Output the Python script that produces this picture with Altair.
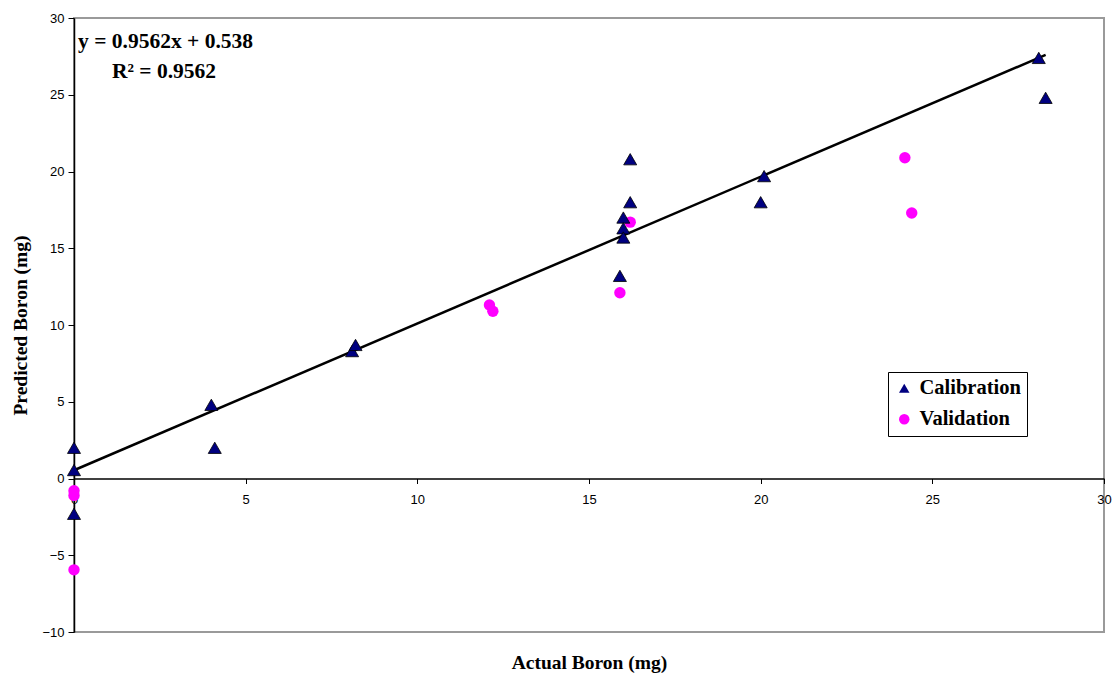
import altair as alt
import pandas as pd

# Calibration samples (actual vs predicted boron, mg)
cal_actual = [0.0, 0.0, 0.0, 4.0, 4.1, 8.1, 8.2, 15.9, 16.0, 16.0, 16.0, 16.2, 16.2, 20.0, 20.1, 28.1, 28.3]
cal_pred = [2.0, 0.55, -2.3, 4.8, 2.0, 8.3, 8.7, 13.2, 17.0, 16.3, 15.7, 18.0, 20.8, 18.0, 19.7, 27.4, 24.8]

# Validation samples
val_actual = [0.0, 0.0, 0.0, 12.1, 12.2, 15.9, 16.2, 24.2, 24.4]
val_pred = [-0.8, -1.1, -5.95, 11.3, 10.9, 12.1, 16.7, 20.9, 17.3]

# Fitted calibration line
slope = 0.9562
intercept = 0.538
r_squared = 0.9562
line_x = [0.0, 28.3]

series_names = ["Calibration", "Validation"]
series_colors = ["#000080", "#FF00FF"]
series_shapes = ["triangle-up", "circle"]

x_ticks = [0, 5, 10, 15, 20, 25, 30]
y_ticks = [-10, -5, 0, 5, 10, 15, 20, 25, 30]

cal_df = pd.DataFrame({"actual": cal_actual, "pred": cal_pred, "series": "Calibration"})
val_df = pd.DataFrame({"actual": val_actual, "pred": val_pred, "series": "Validation"})
line_df = pd.DataFrame({"actual": line_x, "pred": [slope * v + intercept for v in line_x]})

W, H = 1030, 614
SERIF = "Liberation Serif"
SANS = "Liberation Sans"

x_scale = alt.Scale(domain=[0, 30], nice=False, zero=False)
y_scale = alt.Scale(domain=[-10, 30], nice=False, zero=False)

# x axis sits on the y = 0 line
y0_offset = -H * 10 / 40

x_enc = alt.X(
    "actual:Q",
    scale=x_scale,
    axis=alt.Axis(
        values=x_ticks, title="Actual Boron (mg)", offset=y0_offset,
        domainColor="black", domainWidth=1.5, tickColor="black", tickSize=5,
        labelFont=SANS, labelFontSize=13, labelColor="black", labelPadding=10,
        labelFlush=False, labelOverlap=False,
        grid=False, titleFont=SERIF, titleFontSize=19.5, titleFontWeight="bold",
        titleColor="black", titleBaseline="middle",
        titleY=-y0_offset + 30, titleX=W / 2,
    ),
)
y_enc = alt.Y(
    "pred:Q",
    scale=y_scale,
    axis=alt.Axis(
        values=y_ticks, title="Predicted Boron (mg)",
        domainColor="black", domainWidth=1.5, tickColor="black", tickSize=6,
        labelFont=SANS, labelFontSize=13, labelColor="black", labelPadding=4,
        grid=False, titleFont=SERIF, titleFontSize=19.5, titleFontWeight="bold",
        titleColor="black", titleBaseline="middle", titleX=-54, titleY=H / 2,
    ),
)

fill_scale = alt.Scale(domain=series_names, range=series_colors)
shape_scale = alt.Scale(domain=series_names, range=series_shapes)
legend = alt.Legend(
    title=None, orient="none", legendX=814, legendY=354,
    fillColor="white", strokeColor="black", padding=6, rowPadding=10,
    labelFont=SERIF, labelFontSize=20.5, labelFontWeight="bold", labelColor="black",
    symbolSize=110, symbolStrokeWidth=0.6, symbolStrokeColor="black", labelOffset=5,
)

trend = alt.Chart(line_df).mark_line(color="black", strokeWidth=2.5).encode(x=x_enc, y=y_enc)

cal_points = alt.Chart(cal_df).mark_point(
    filled=True, size=170, stroke="black", strokeWidth=0.8, opacity=1
).encode(
    x=x_enc, y=y_enc,
    fill=alt.Fill("series:N", scale=fill_scale, legend=legend),
    shape=alt.Shape("series:N", scale=shape_scale, legend=legend),
)

val_points = alt.Chart(val_df).mark_point(
    filled=True, size=130, strokeWidth=0, opacity=1
).encode(
    x=x_enc, y=y_enc,
    fill=alt.Fill("series:N", scale=fill_scale, legend=legend),
    shape=alt.Shape("series:N", scale=shape_scale, legend=legend),
)

eq_text = alt.Chart(pd.DataFrame({"t": [f"y = {slope}x + {intercept}"]})).mark_text(
    align="left", baseline="middle", font=SERIF, fontSize=21.5, fontWeight="bold", color="black"
).encode(x=alt.value(4), y=alt.value(24), text="t:N")

r2_text = alt.Chart(pd.DataFrame({"t": [f"R\u00b2 = {r_squared}"]})).mark_text(
    align="left", baseline="middle", font=SERIF, fontSize=21.5, fontWeight="bold", color="black"
).encode(x=alt.value(38), y=alt.value(54), text="t:N")

chart = (
    alt.layer(trend, val_points, cal_points, eq_text, r2_text)
    .properties(
        width=W, height=H,
        autosize=alt.AutoSizeParams(type="none"),
        padding={"left": 74, "top": 18, "right": 9, "bottom": 42},
        background="white",
    )
    .configure_view(stroke="#9a9a9a", strokeWidth=2)
)

chart.save("out.html", embed_options={"renderer": "svg", "actions": False})
